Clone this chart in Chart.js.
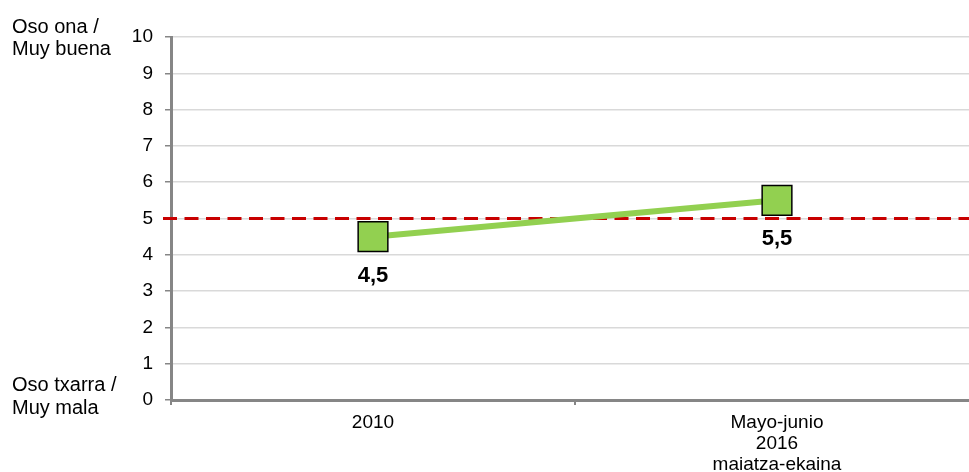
<!DOCTYPE html>
<html>
<head>
<meta charset="utf-8">
<script src="https://cdn.jsdelivr.net/npm/chart.js@4"></script>
<style>
  html, body { margin: 0; padding: 0; background: #fff; overflow: hidden; }
  canvas { display: block; }
</style>
</head>
<body>
<canvas id="chart" width="979" height="472"></canvas>
<script>
// ---- data ----
const categories = ['2010', ['Mayo-junio', '2016', 'maiatza-ekaina']];
const values = [4.5, 5.5];
const yMin = 0;
const yMax = 10;
const yStep = 1;
const referenceValue = 5;
const topLabel = ['Oso ona /', 'Muy buena'];
const bottomLabel = ['Oso txarra /', 'Muy mala'];

const FONT = '"Liberation Sans", Arial, sans-serif';
const AXIS_GREY = '#868686';

// dashed red line at the reference value
const refLine = {
    id: 'refLine',
    beforeDatasetsDraw(chart) {
        const { ctx, chartArea } = chart;
        const y = chart.scales.y.getPixelForValue(referenceValue);
        ctx.save();
        ctx.strokeStyle = '#c80000';
        ctx.lineWidth = 3;
        ctx.setLineDash([14, 7.5]);
        ctx.beginPath();
        ctx.moveTo(chartArea.left - 8, y);
        ctx.lineTo(chart.width, y);
        ctx.stroke();
        ctx.restore();
    }
};

// value labels under the markers + the scale end captions
const labels = {
    id: 'labels',
    afterDatasetsDraw(chart) {
        const { ctx } = chart;
        const meta = chart.getDatasetMeta(0);
        ctx.save();
        ctx.fillStyle = '#000';
        ctx.textAlign = 'center';
        ctx.textBaseline = 'middle';
        ctx.font = 'bold 22px ' + FONT;
        meta.data.forEach((pt, i) => {
            ctx.fillText(String(values[i]).replace('.', ','), pt.x, pt.y + 39);
        });

        const yScale = chart.scales.y;
        const yTop = yScale.getPixelForValue(yMax);
        const yBot = yScale.getPixelForValue(yMin);
        ctx.textAlign = 'left';
        ctx.font = '20px ' + FONT;
        ctx.fillText(topLabel[0], 12, yTop - 10);
        ctx.fillText(topLabel[1], 12, yTop + 12);
        ctx.fillText(bottomLabel[0], 12, yBot - 15);
        ctx.fillText(bottomLabel[1], 12, yBot + 8);
        ctx.restore();
    }
};

new Chart(document.getElementById('chart'), {
    type: 'line',
    data: {
        labels: categories,
        datasets: [{
            data: values,
            borderColor: '#92d050',
            borderWidth: 6,
            backgroundColor: '#92d050',
            pointStyle: 'rect',
            pointRadius: 21,
            pointHoverRadius: 21,
            pointBackgroundColor: '#92d050',
            pointBorderColor: '#000',
            pointBorderWidth: 1.5,
            tension: 0
        }]
    },
    options: {
        responsive: false,
        animation: false,
        events: [],
        layout: { autoPadding: false, padding: { top: 37, left: 0, right: 0, bottom: 0 } },
        plugins: { legend: { display: false }, tooltip: { enabled: false } },
        scales: {
            x: {
                offset: true,
                afterFit(scale) {
                    scale.height = 72;
                    scale.paddingLeft = 0;
                    scale.paddingRight = 0;
                },
                grid: {
                    offset: true,
                    drawOnChartArea: false,
                    drawTicks: true,
                    tickLength: 5,
                    tickColor: AXIS_GREY,
                    lineWidth: 2
                },
                border: { color: AXIS_GREY, width: 3 },
                ticks: {
                    color: '#000',
                    padding: 8,
                    maxRotation: 0,
                    autoSkip: false,
                    font: { family: FONT, size: 19, lineHeight: 1.08 }
                }
            },
            y: {
                min: yMin,
                max: yMax,
                afterFit(scale) { scale.width = 171; },
                grid: {
                    color: '#d9d9d9',
                    lineWidth: 1.5,
                    tickColor: AXIS_GREY,
                    tickLength: 6
                },
                border: { color: AXIS_GREY, width: 3 },
                ticks: {
                    stepSize: yStep,
                    color: '#000',
                    padding: 12,
                    font: { family: FONT, size: 19 }
                }
            }
        }
    },
    plugins: [refLine, labels]
});
</script>
</body>
</html>
